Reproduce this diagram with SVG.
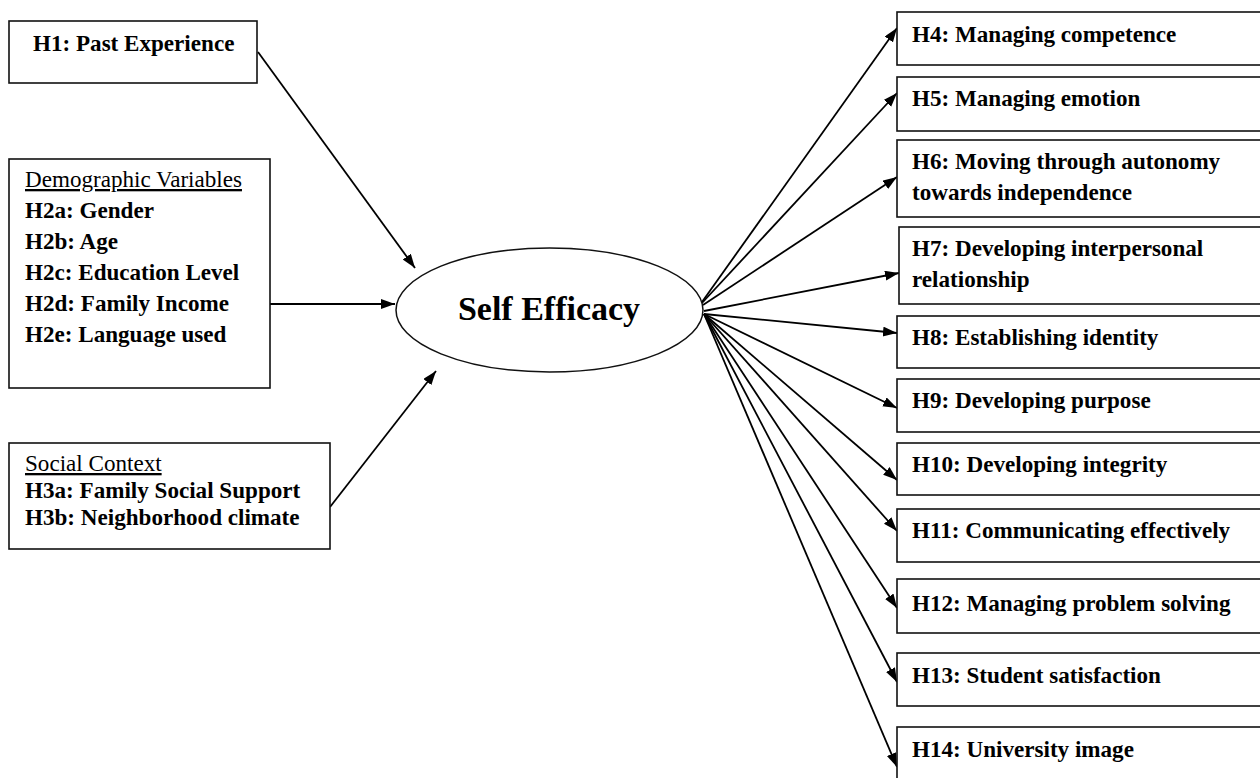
<svg xmlns="http://www.w3.org/2000/svg" width="1260" height="778" viewBox="0 0 1260 778">
<style>
.box{fill:#fff;stroke:#111;stroke-width:1.6}
.t{font-family:"Liberation Serif","Times New Roman",serif;font-size:23.1px;font-weight:bold;fill:#000}
.h{font-family:"Liberation Serif","Times New Roman",serif;font-size:23.1px;font-weight:normal;fill:#000;text-decoration:underline}
.c{stroke:#000;stroke-width:1.8;fill:none;marker-end:url(#arr)}
</style>
<defs>
<marker id="arr" markerUnits="userSpaceOnUse" markerWidth="15" markerHeight="11" refX="14" refY="5" orient="auto">
<path d="M0,0 L14,5 L0,10 z" fill="#000"/>
</marker>
</defs>
<rect width="1260" height="778" fill="#fff"/>
<g id="connectors">
<line class="c" x1="258" y1="52" x2="415" y2="268"/>
<line class="c" x1="270" y1="304" x2="395" y2="304"/>
<line class="c" x1="330" y1="507" x2="436" y2="371"/>
<line class="c" x1="702" y1="302" x2="897" y2="28"/>
<line class="c" x1="702" y1="303" x2="897" y2="93"/>
<line class="c" x1="703" y1="305" x2="897" y2="177"/>
<line class="c" x1="704" y1="311" x2="899" y2="273"/>
<line class="c" x1="704" y1="314" x2="897" y2="333"/>
<line class="c" x1="704" y1="314" x2="897" y2="408"/>
<line class="c" x1="704" y1="314" x2="897" y2="480"/>
<line class="c" x1="704" y1="314" x2="897" y2="531"/>
<line class="c" x1="704" y1="314" x2="897" y2="608"/>
<line class="c" x1="704" y1="314" x2="897" y2="682"/>
<line class="c" x1="704" y1="314" x2="897" y2="767"/>
</g>
<g id="n_h1">
<rect class="box" x="9" y="21" width="248" height="62"/>
<text class="t" x="33" y="51">H1: Past Experience</text>
</g>
<g id="n_demo">
<rect class="box" x="9" y="159" width="261" height="229"/>
<text class="h" x="25" y="187">Demographic Variables</text>
<text class="t" x="25" y="218">H2a: Gender</text>
<text class="t" x="25" y="249">H2b: Age</text>
<text class="t" x="25" y="280">H2c: Education Level</text>
<text class="t" x="25" y="311">H2d: Family Income</text>
<text class="t" x="25" y="342">H2e: Language used</text>
</g>
<g id="n_social">
<rect class="box" x="9" y="443" width="321" height="106"/>
<text class="h" x="25" y="471">Social Context</text>
<text class="t" x="25" y="498">H3a: Family Social Support</text>
<text class="t" x="25" y="525">H3b: Neighborhood climate</text>
</g>
<g id="n_self">
<ellipse cx="549.5" cy="310" rx="153.5" ry="62" fill="#fff" stroke="#111" stroke-width="1.5"/>
<text x="549" y="320" text-anchor="middle" font-family="'Liberation Serif','Times New Roman',serif" font-size="34" font-weight="bold">Self Efficacy</text>
</g>
<g id="n_h4">
<rect class="box" x="897" y="12" width="370" height="53"/>
<text class="t" x="912" y="42">H4: Managing competence</text>
</g>
<g id="n_h5">
<rect class="box" x="897" y="77" width="370" height="54"/>
<text class="t" x="912" y="106">H5: Managing emotion</text>
</g>
<g id="n_h6">
<rect class="box" x="897" y="140" width="370" height="77"/>
<text class="t" x="912" y="169">H6: Moving through autonomy</text>
<text class="t" x="912" y="200">towards independence</text>
</g>
<g id="n_h7">
<rect class="box" x="899" y="227" width="370" height="77"/>
<text class="t" x="912" y="256">H7: Developing interpersonal</text>
<text class="t" x="912" y="287">relationship</text>
</g>
<g id="n_h8">
<rect class="box" x="897" y="316" width="370" height="52"/>
<text class="t" x="912" y="345">H8: Establishing identity</text>
</g>
<g id="n_h9">
<rect class="box" x="897" y="379" width="370" height="53"/>
<text class="t" x="912" y="408">H9: Developing purpose</text>
</g>
<g id="n_h10">
<rect class="box" x="897" y="443" width="370" height="52"/>
<text class="t" x="912" y="472">H10: Developing integrity</text>
</g>
<g id="n_h11">
<rect class="box" x="897" y="509" width="370" height="53"/>
<text class="t" x="912" y="538">H11: Communicating effectively</text>
</g>
<g id="n_h12">
<rect class="box" x="897" y="579" width="370" height="54"/>
<text class="t" x="912" y="611">H12: Managing problem solving</text>
</g>
<g id="n_h13">
<rect class="box" x="897" y="653" width="370" height="53"/>
<text class="t" x="912" y="683">H13: Student satisfaction</text>
</g>
<g id="n_h14">
<rect class="box" x="897" y="727" width="370" height="60"/>
<text class="t" x="912" y="757">H14: University image</text>
</g>
</svg>
